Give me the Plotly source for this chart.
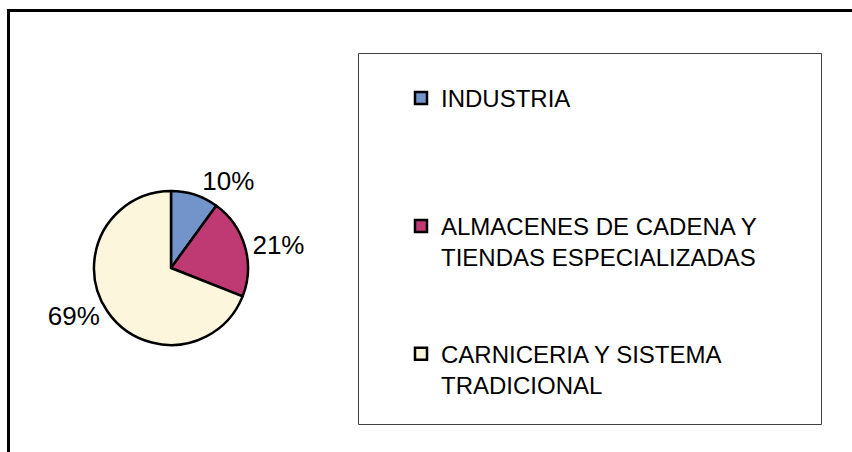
import plotly.graph_objects as go

categories = ["INDUSTRIA", "ALMACENES DE CADENA Y<br>TIENDAS ESPECIALIZADAS", "CARNICERIA Y SISTEMA<br>TRADICIONAL"]
values = [10, 21, 69]
colors = ["#7294CB", "#BF3A72", "#FCF7DC"]

W, H = 852, 452
FONT = "Liberation Sans, Arial, sans-serif"

# pad legend labels with blank lines so entries are spaced like the reference
nlines = [c.count("<br>") + 1 for c in categories]
legend_labels = [c + ("<br>\u00a0" * (4 - n) if i < len(categories) - 1 else "")
                 for i, (c, n) in enumerate(zip(categories, nlines))]

cx, cy, r = 171, 268, 77

fig = go.Figure(go.Pie(
    labels=legend_labels,
    values=values,
    sort=False,
    direction="clockwise",
    rotation=0,
    marker=dict(colors=colors, line=dict(color="black", width=2.5)),
    textinfo="percent",
    texttemplate="%{percent:.0%}",
    textposition="outside",
    textfont=dict(family=FONT, size=26, color="black"),
    hoverinfo="label+percent",
    domain=dict(x=[(cx - r) / W, (cx + r) / W], y=[(H - cy - r) / H, (H - cy + r) / H]),
))

fig.update_layout(
    width=W, height=H,
    margin=dict(l=0, r=0, t=0, b=0),
    paper_bgcolor="white",
    plot_bgcolor="white",
    showlegend=True,
    legend=dict(
        x=401 / W, y=1 - 76 / H, xanchor="left", yanchor="top",
        font=dict(family=FONT, size=24, color="black"),
        valign="top",
        bgcolor="rgba(0,0,0,0)",
        borderwidth=0,
        tracegroupgap=0,
    ),
    shapes=[
        dict(type="rect", xref="paper", yref="paper",
             x0=8.5 / W, x1=1.2, y0=-0.2, y1=1 - 10.5 / H,
             line=dict(color="black", width=3), fillcolor="rgba(0,0,0,0)", layer="below"),
        dict(type="rect", xref="paper", yref="paper",
             x0=358.5 / W, x1=821.5 / W, y0=1 - 424.5 / H, y1=1 - 53.5 / H,
             line=dict(color="#404040", width=1), fillcolor="rgba(0,0,0,0)", layer="below"),
    ],
)

fig.write_html("out.html", config={"displayModeBar": False},
               post_script="document.body.style.margin='0';")
